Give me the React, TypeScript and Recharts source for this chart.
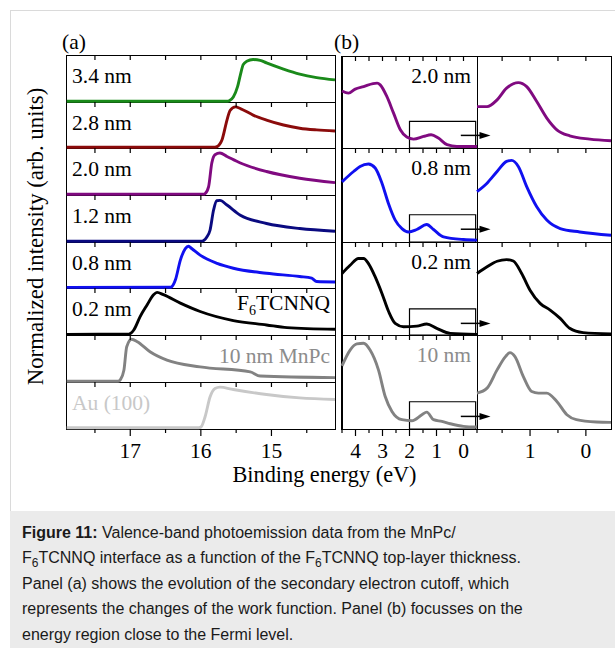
import React from 'react';
import { LineChart, Line, XAxis, YAxis, ReferenceArea, ReferenceLine } from 'recharts';

type P = [number, number];

// ---------- Panel (a): secondary electron cutoff ----------
const cutoffLabels = ['3.4 nm', '2.8 nm', '2.0 nm', '1.2 nm', '0.8 nm', '0.2 nm', '10 nm MnPc', 'Au (100)'];
const cutoffColors = ['#1a8a1a', '#8b0b0b', '#800a80', '#0a0a80', '#1010f0', '#000000', '#828282', '#c8c8c8'];

const cut34: P[] = [[17.9, 0.015], [16.5, 0.015], [15.62, 0.017], [15.6, 0.025], [15.54, 0.108], [15.48, 0.325], [15.44, 0.578], [15.4, 0.794], [15.35, 0.866], [15.26, 0.903], [15.16, 0.887], [15.07, 0.831], [14.83, 0.7], [14.6, 0.593], [14.36, 0.52], [14.1, 0.47]];
const cut28: P[] = [[17.9, 0.015], [15.8, 0.018], [15.77, 0.03], [15.7, 0.178], [15.63, 0.607], [15.585, 0.82], [15.51, 0.893], [15.44, 0.858], [15.26, 0.715], [15.07, 0.607], [14.83, 0.5], [14.6, 0.43], [14.36, 0.393], [14.1, 0.37]];
const cut20: P[] = [[17.9, 0.015], [15.96, 0.018], [15.94, 0.03], [15.89, 0.18], [15.845, 0.68], [15.8, 0.857], [15.73, 0.893], [15.63, 0.82], [15.44, 0.68], [15.07, 0.5], [14.6, 0.357], [14.1, 0.264]];
const cut12: P[] = [[17.9, 0.015], [15.98, 0.018], [15.96, 0.03], [15.915, 0.107], [15.87, 0.25], [15.82, 0.68], [15.775, 0.878], [15.73, 0.885], [15.63, 0.786], [15.44, 0.57], [15.07, 0.394], [14.6, 0.287], [14.1, 0.23]];
const cut08: P[] = [[17.9, 0.013], [16.43, 0.015], [16.41, 0.03], [16.36, 0.178], [16.29, 0.607], [16.22, 0.858], [16.175, 0.908], [16.13, 0.858], [16.01, 0.714], [15.77, 0.536], [15.54, 0.43], [15.07, 0.32], [14.6, 0.25], [14.43, 0.214], [14.36, 0.14], [14.1, 0.13]];
const cut02: P[] = [[17.9, 0.014], [17.02, 0.016], [16.99, 0.04], [16.95, 0.107], [16.86, 0.392], [16.76, 0.643], [16.67, 0.857], [16.62, 0.906], [16.53, 0.857], [16.29, 0.679], [16.01, 0.5], [15.54, 0.307], [15.07, 0.214], [14.78, 0.157], [14.1, 0.122]];
const cutMnPc: P[] = [[17.9, 0.015], [17.17, 0.017], [17.14, 0.05], [17.09, 0.25], [17.05, 0.75], [16.98, 0.908], [16.9, 0.857], [16.72, 0.643], [16.48, 0.464], [16.01, 0.321], [15.3, 0.214], [15.16, 0.128], [14.1, 0.094]];
const cutAu: P[] = [[17.9, 0.027], [16.03, 0.028], [16.0, 0.04], [15.94, 0.26], [15.87, 0.68], [15.8, 0.86], [15.73, 0.89], [15.54, 0.84], [15.07, 0.733], [14.6, 0.662], [14.1, 0.627]];
const cutoffSeries = [cut34, cut28, cut20, cut12, cut08, cut02, cutMnPc, cutAu];

const cutoffTicks = [17.5, 17, 16.5, 16, 15.5, 15, 14.5];
const cutoffDomain: [number, number] = [14.1, 17.91];

// ---------- Panel (b): valence band ----------
const vbLabels = ['2.0 nm', '0.8 nm', '0.2 nm', '10 nm'];
const vbLabelColors = ['#000000', '#000000', '#000000', '#8c8c8c'];
const vbColors = ['#800a80', '#1010f0', '#000000', '#828282'];

const vb20: P[] = [[4.5, 0.62], [4.26, 0.596], [4.01, 0.64], [3.7, 0.667], [3.35, 0.7], [3.2, 0.705], [3.085, 0.686], [2.84, 0.56], [2.59, 0.379], [2.34, 0.198], [2.1, 0.119], [1.85, 0.097], [1.48, 0.126], [1.2, 0.144], [0.93, 0.108], [0.61, 0.036], [0.245, 0.017], [-0.5, 0.017]];
const vb08: P[] = [[4.5, 0.64], [4.07, 0.75], [3.83, 0.804], [3.52, 0.83], [3.27, 0.787], [3.02, 0.626], [2.78, 0.41], [2.53, 0.233], [2.28, 0.143], [2.04, 0.107], [1.73, 0.133], [1.36, 0.186], [1.11, 0.133], [0.74, 0.054], [0, 0.026], [-0.5, 0.02]];
const vb02: P[] = [[4.5, 0.661], [4.2, 0.75], [3.89, 0.822], [3.7, 0.822], [3.52, 0.768], [3.27, 0.625], [3.02, 0.447], [2.77, 0.25], [2.53, 0.125], [2.22, 0.089], [1.73, 0.096], [1.36, 0.118], [0.99, 0.072], [0.49, 0.018], [-0.5, 0.007]];
const vb10: P[] = [[4.5, 0.671], [4.2, 0.84], [3.95, 0.905], [3.7, 0.912], [3.46, 0.84], [3.15, 0.629], [2.9, 0.346], [2.65, 0.187], [2.28, 0.099], [1.91, 0.088], [1.54, 0.152], [1.36, 0.18], [1.11, 0.099], [0.8, 0.081], [0.49, 0.056], [0, 0.028], [-0.5, 0.021]];
const vbSeries = [vb20, vb08, vb02, vb10];

const zoom20: P[] = [[1.95, 0.45], [1.77, 0.45], [1.59, 0.523], [1.42, 0.65], [1.21, 0.711], [1.06, 0.667], [0.88, 0.505], [0.7, 0.325], [0.52, 0.198], [0.29, 0.133], [-0.07, 0.097], [-0.45, 0.079]];
const zoom08: P[] = [[1.95, 0.536], [1.77, 0.626], [1.59, 0.75], [1.42, 0.857], [1.33, 0.868], [1.21, 0.804], [1.06, 0.59], [0.88, 0.375], [0.7, 0.233], [0.46, 0.143], [0.11, 0.107], [-0.45, 0.072]];
const zoom02: P[] = [[1.95, 0.661], [1.77, 0.733], [1.59, 0.793], [1.42, 0.811], [1.3, 0.796], [1.15, 0.661], [1.0, 0.482], [0.82, 0.34], [0.64, 0.268], [0.46, 0.179], [0.29, 0.072], [0.05, 0.025], [-0.45, 0.011]];
const zoom10: P[] = [[1.95, 0.382], [1.77, 0.435], [1.59, 0.629], [1.44, 0.77], [1.36, 0.812], [1.27, 0.77], [1.12, 0.558], [0.97, 0.399], [0.85, 0.382], [0.7, 0.382], [0.52, 0.293], [0.34, 0.152], [0.17, 0.099], [-0.19, 0.074], [-0.45, 0.07]];
const zoomSeries = [zoom20, zoom08, zoom02, zoom10];

const vbTopTicks = [4, 3.5, 3, 2.5, 2, 1.5, 1, 0.5, 0];
const vbBottomTicks = [4.5, 4, 3.5, 3, 2.5, 2, 1.5, 1, 0.5, 0, -0.5];
const vbDomain: [number, number] = [-0.5, 4.5];
const zoomTicks = [1.5, 1, 0.5, 0];
const zoomDomain: [number, number] = [-0.45, 1.95];

// zoom window (box) and arrow, in data units
const boxRange: [number, number] = [2, -0.45];
const boxTops = [0.29, 0.29, 0.28, 0.29];
const arrowFromTo: [number, number] = [0.1, -1.0];
const arrowLevels = [0.137, 0.136, 0.125, 0.134];

// ---------- layout ----------
const A_X0 = 66, A_X1 = 335;
const A_ROWS = [55, 102, 148, 195, 242, 288, 335, 382, 429];
const B_X0 = 342, B_XM = 477, B_X1 = 611;
const B_ROWS = [56, 148, 242, 335, 429];
const M = 4;
const SERIF = '"Liberation Serif", "Times New Roman", serif';

const TopTick = (props: any) => {
  const { x, y } = props;
  return <line x1={x} x2={x} y1={y} y2={y + 5} stroke="#000" strokeWidth={1.2} />;
};

const BottomTick = (props: any) => {
  const { x, y, payload } = props;
  const v = payload.value;
  const major = Number.isInteger(v);
  return (
    <g>
      <line x1={x} x2={x} y1={y} y2={y + (major ? 7 : 4)} stroke="#000" strokeWidth={1.2} />
      {major && (
        <text x={x} y={y + 29} textAnchor="middle" fontFamily={SERIF} fontSize={21.5} fill="#000">
          {String(v)}
        </text>
      )}
    </g>
  );
};

const Arrow = (props: any) => {
  const { x1, y1, x2, y2 } = props;
  return (
    <g>
      <line x1={x1} y1={y1} x2={x2 - 8} y2={y2} stroke="#000" strokeWidth={1.5} />
      <polygon points={`${x2},${y2} ${x2 - 11},${y2 - 3.5} ${x2 - 11},${y2 + 3.5}`} fill="#000" />
    </g>
  );
};

function Plot(props: {
  x0: number; x1: number; y0: number; y1: number; data: P[]; domain: [number, number];
  color: string; topTicks: number[]; bottomTicks?: number[]; extraRight?: number; children?: any;
}) {
  const { x0, x1, y0, y1, data, domain, color, topTicks, bottomTicks, children } = props;
  const extraRight = props.extraRight || 0;
  const w = x1 - x0;
  const h = y1 - y0;
  const bottomH = bottomTicks ? 36 : 0;
  const rows = data.map(([x, y]) => ({ x, y }));
  return (
    <div style={{ position: 'absolute', left: x0 - M, top: y0 - M - 1 }}>
      <LineChart
        width={w + 2 * M + extraRight}
        height={h + 2 * M + 1 + bottomH}
        data={rows}
        margin={{ top: M, right: M + extraRight, bottom: M, left: M }}
      >
        <XAxis xAxisId="t" orientation="top" type="number" dataKey="x" domain={domain} reversed height={1}
          ticks={topTicks} interval={0} tickSize={0} tickMargin={0} axisLine={false} tickLine={false} tick={TopTick} />
        {bottomTicks && (
          <XAxis xAxisId="b" orientation="bottom" type="number" dataKey="x" domain={domain} reversed height={bottomH}
            ticks={bottomTicks} interval={0} tickSize={0} tickMargin={0} axisLine={false} tickLine={false} tick={BottomTick} />
        )}
        <YAxis type="number" domain={[0, 1]} hide />
        <Line xAxisId="t" dataKey="y" type="monotone" stroke={color} strokeWidth={2.9} dot={false} isAnimationActive={false} />
        {children}
      </LineChart>
    </div>
  );
}

function Frame({ x0, x1, y0, y1, leftW = 1 }: { x0: number; x1: number; y0: number; y1: number; leftW?: number }) {
  return (
    <div style={{
      position: 'absolute', left: x0 - (leftW - 1), top: y0, width: x1 - x0 + leftW, height: y1 - y0 + 1,
      border: '1px solid #000', borderLeftWidth: leftW, boxSizing: 'border-box',
    }} />
  );
}

export default function App() {
  return (
    <div style={{ position: 'absolute', left: 0, top: 0, width: 615, height: 648, overflow: 'hidden', background: '#fff' }}>
      {/* outer page lines */}
      <div style={{ position: 'absolute', left: 10, top: 10, width: 1, height: 501, background: '#dadada' }} />
      <div style={{ position: 'absolute', left: 10, top: 10, width: 605, height: 1, background: '#dadada' }} />

      {/* frames */}
      {cutoffSeries.map((_, i) => (
        <Frame key={'fa' + i} x0={A_X0} x1={A_X1} y0={A_ROWS[i]} y1={A_ROWS[i + 1]} />
      ))}
      {vbSeries.map((_, i) => (
        <React.Fragment key={'fb' + i}>
          <Frame x0={B_X0} x1={B_XM} y0={B_ROWS[i]} y1={B_ROWS[i + 1]} leftW={2} />
          <Frame x0={B_XM} x1={B_X1} y0={B_ROWS[i]} y1={B_ROWS[i + 1]} />
        </React.Fragment>
      ))}

      {/* panel (a) */}
      {cutoffSeries.map((s, i) => (
        <Plot key={'a' + i} x0={A_X0} x1={A_X1} y0={A_ROWS[i]} y1={A_ROWS[i + 1]} data={s} domain={cutoffDomain}
          color={cutoffColors[i]} topTicks={cutoffTicks} bottomTicks={i === cutoffSeries.length - 1 ? cutoffTicks : undefined} />
      ))}

      {/* panel (b) zoomed insets */}
      {zoomSeries.map((s, i) => (
        <Plot key={'z' + i} x0={B_XM} x1={B_X1} y0={B_ROWS[i]} y1={B_ROWS[i + 1]} data={s} domain={zoomDomain}
          color={vbColors[i]} topTicks={zoomTicks} bottomTicks={i === zoomSeries.length - 1 ? zoomTicks : undefined} />
      ))}

      {/* panel (b) valence band */}
      {vbSeries.map((s, i) => (
        <Plot key={'b' + i} x0={B_X0} x1={B_XM} y0={B_ROWS[i]} y1={B_ROWS[i + 1]} data={s} domain={vbDomain}
          color={vbColors[i]} topTicks={vbTopTicks} bottomTicks={i === vbSeries.length - 1 ? vbBottomTicks : undefined}
          extraRight={24}>
          <ReferenceArea xAxisId="t" x1={boxRange[0]} x2={boxRange[1]} y1={0} y2={boxTops[i]}
            fill="none" fillOpacity={0} stroke="#000" strokeWidth={1.2} ifOverflow="visible" />
          <ReferenceLine xAxisId="t" segment={[{ x: arrowFromTo[0], y: arrowLevels[i] }, { x: arrowFromTo[1], y: arrowLevels[i] }]}
            ifOverflow="visible" shape={Arrow} />
        </Plot>
      ))}

      {/* texts */}
      <svg width={615} height={510} style={{ position: 'absolute', left: 0, top: 0, pointerEvents: 'none' }}>
        <g fontFamily={SERIF} fontSize={21.5}>
          <text x={62} y={49}>(a)</text>
          <text x={334} y={49}>(b)</text>
          {cutoffLabels.slice(0, 6).map((t, i) => (
            <text key={'la' + i} x={72} y={A_ROWS[i] + 28} fill="#000">{t}</text>
          ))}
          <text x={330} y={A_ROWS[5] + 21.5} textAnchor="end" fill="#000">
            F<tspan fontSize={14} dy={5}>6</tspan><tspan dy={-5}>TCNNQ</tspan>
          </text>
          <text x={330} y={A_ROWS[6] + 27.5} textAnchor="end" fill="#8c8c8c">{cutoffLabels[6]}</text>
          <text x={72} y={A_ROWS[7] + 28} fill="#c8c8c8">{cutoffLabels[7]}</text>
          {vbLabels.map((t, i) => (
            <text key={'lb' + i} x={471} y={B_ROWS[i] + 27} textAnchor="end" fill={vbLabelColors[i]}>{t}</text>
          ))}
        </g>
        <text transform="translate(43.3, 236.5) rotate(-90)" textAnchor="middle" fontFamily={SERIF} fontSize={22.8} fill="#000">
          Normalized intensity (arb. units)
        </text>
        <text x={324.5} y={481.5} textAnchor="middle" fontFamily={SERIF} fontSize={22.3} fill="#000">
          Binding energy (eV)
        </text>
      </svg>

      {/* caption */}
      <div style={{
        position: 'absolute', left: 10, top: 511, width: 605, height: 137, background: '#ebebeb',
        fontFamily: '"Liberation Sans", Arial, sans-serif', fontSize: 16, lineHeight: '25.4px', color: '#1a1a1a',
        padding: '9px 0 0 12px', boxSizing: 'border-box', whiteSpace: 'nowrap',
      }}>
        <b>Figure 11:</b> Valence-band photoemission data from the MnPc/<br />
        F<sub style={{ fontSize: 12, lineHeight: 0, verticalAlign: '-4px' }}>6</sub>TCNNQ interface as a function of the F<sub style={{ fontSize: 12, lineHeight: 0, verticalAlign: '-4px' }}>6</sub>TCNNQ top-layer thickness.<br />
        Panel (a) shows the evolution of the secondary electron cutoff, which<br />
        represents the changes of the work function. Panel (b) focusses on the<br />
        energy region close to the Fermi level.
      </div>
    </div>
  );
}
